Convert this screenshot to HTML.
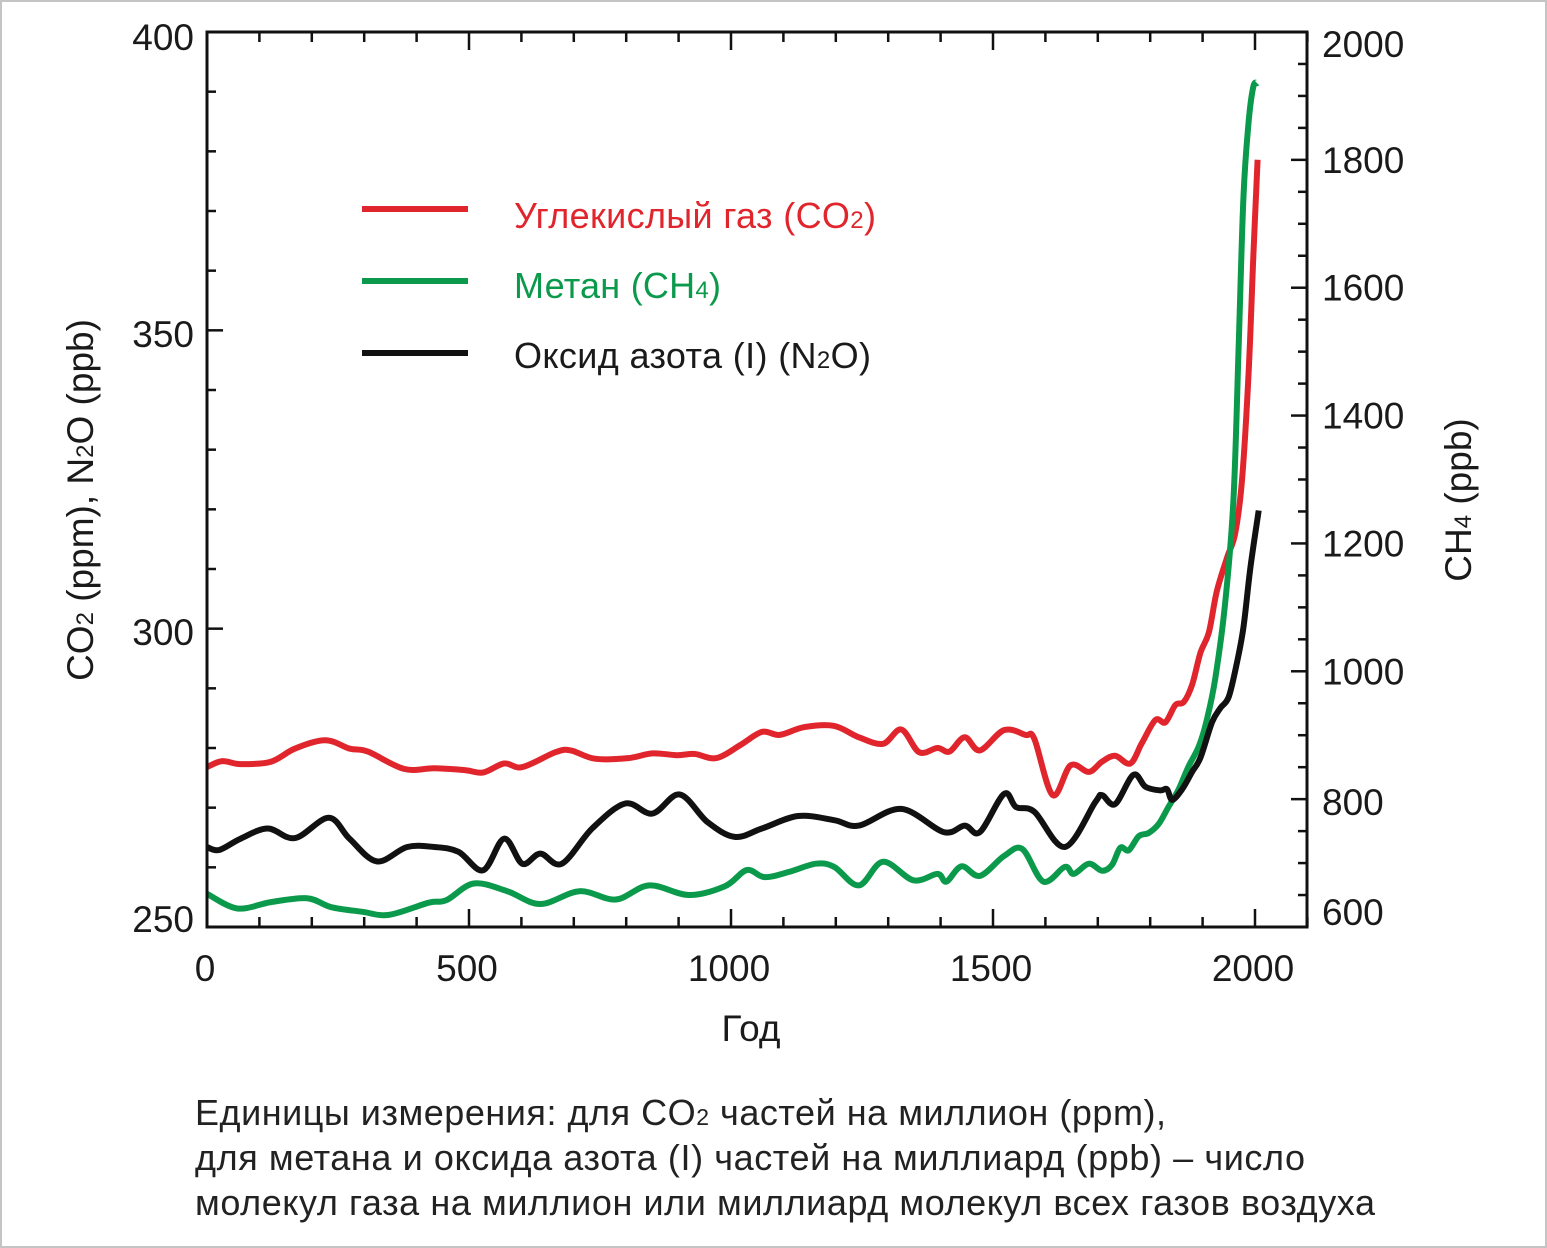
<!DOCTYPE html>
<html><head><meta charset="utf-8"><style>
html,body{margin:0;padding:0;background:#fff}
#wrap{position:relative;width:1547px;height:1248px;box-sizing:border-box;border:2px solid #c4c4c4;background:#fff;overflow:hidden}
svg{position:absolute;left:0;top:0}
text{font-family:"Liberation Sans",sans-serif;fill:#1a1a1a}
</style></head><body>
<div id="wrap">
<svg id="chart" width="1547" height="1248" viewBox="0 0 1547 1248"></svg>
</div>
<script>
const co2Years=[0,29,64,122,168,226,272,307,376,434,492,527,567,602,665,694,740,804,850,897,931,972,1018,1059,1093,1140,1197,1244,1290,1325,1359,1394,1417,1446,1475,1521,1562,1579,1614,1648,1683,1708,1733,1762,1784,1810,1829,1848,1864,1880,1896,1912,1927,1947,1962,1975,1988,1997,2005];
const co2Values=[276.8,277.8,277.3,277.7,279.9,281.3,279.9,279.4,276.5,276.6,276.3,275.9,277.4,276.8,279.3,279.6,278.2,278.3,279.1,278.8,279.0,278.3,280.5,282.7,282.2,283.5,283.7,281.8,280.7,283.1,279.3,280.0,279.4,281.8,279.6,283.0,282.2,281.5,272.1,277.1,276.0,277.7,278.7,277.4,280.8,284.7,284.3,287.2,287.7,290.6,296.0,299.4,306.2,312.0,315.9,324.7,343.2,362.7,378.6];
const n2oYears=[0,23,64,116,168,232,272,324,382,434,480,527,567,602,636,677,735,798,850,902,955,1007,1059,1128,1197,1244,1325,1406,1446,1475,1521,1544,1579,1637,1695,1708,1733,1768,1791,1819,1832,1842,1861,1880,1896,1918,1934,1950,1966,1978,1991,2007];
const n2oValues=[263.4,262.9,264.8,266.5,264.9,268.3,264.8,261.0,263.4,263.4,262.6,259.5,264.8,260.6,262.3,260.6,266.5,270.7,269.0,272.2,267.6,265.1,266.5,268.6,267.9,267.0,269.8,265.9,267.0,265.9,272.3,270.1,269.3,263.4,270.9,272.1,270.6,275.5,273.5,272.9,273.1,271.3,273.1,276.0,278.4,284.3,286.7,288.6,294.5,300.3,310.1,319.8];
const ch4Years=[0,58,122,191,237,295,347,423,457,509,573,636,711,780,844,920,989,1030,1064,1110,1162,1197,1244,1290,1348,1394,1411,1440,1475,1521,1556,1596,1637,1654,1683,1708,1727,1743,1759,1778,1797,1816,1835,1854,1873,1893,1908,1924,1943,1959,1969,1978,1988,1997,2004];
const ch4Values=[652,629,639,645,631,624,619,638,642,668,656,636,656,643,665,650,664,689,678,686,699,694,665,702,673,683,671,695,680,711,722,671,694,683,699,688,697,724,720,742,747,761,788,815,851,883,924,988,1106,1270,1515,1743,1861,1915,1920];
const leftTicks=[250,300,350,400];
const rightTicks=[600,800,1000,1200,1400,1600,1800,2000];
const xTicks=[0,500,1000,1500,2000];

const L=205,R=1305,T=30,B=925;
const x=y=>L+(y)*0.524;
const yL=v=>B-(v-250)*(B-T)/150;
const yR=v=>B-(v-600)*(B-T)/1400;
const svg=document.getElementById('chart');
const NS='http://www.w3.org/2000/svg';
function mk(tag,attrs,parent){const e=document.createElementNS(NS,tag);for(const k in attrs)e.setAttribute(k,attrs[k]);(parent||svg).appendChild(e);return e;}
function smooth(pts){let d='M'+pts[0][0].toFixed(1)+','+pts[0][1].toFixed(1);
 for(let i=0;i<pts.length-1;i++){const p0=pts[i-1]||pts[i],p1=pts[i],p2=pts[i+1],p3=pts[i+2]||p2;
  const c1=[p1[0]+(p2[0]-p0[0])/6,p1[1]+(p2[1]-p0[1])/6],c2=[p2[0]-(p3[0]-p1[0])/6,p2[1]-(p3[1]-p1[1])/6];
  d+=' C'+c1.map(n=>n.toFixed(1))+' '+c2.map(n=>n.toFixed(1))+' '+p2.map(n=>n.toFixed(1));}
 return d;}

const series=[[n2oYears,n2oValues,yL,'#111','n2o-line'],[co2Years,co2Values,yL,'#e0252d','co2-line'],[ch4Years,ch4Values,yR,'#0b9a4b','ch4-line']];
const order=[1,2,0];
order.forEach(i=>{const s=series[i];const pts=s[0].map((yr,j)=>[x(yr),s[2](s[1][j])]);
 const p=mk('path',{d:smooth(pts),fill:'none',stroke:s[3],'stroke-width':6,'stroke-linejoin':'round','stroke-linecap':'butt'});
 
 
});

const fr=mk('rect',{x:L,y:T,width:R-L,height:B-T,fill:'none',stroke:'#111','stroke-width':3});


const tg=mk('g',{stroke:'#111','stroke-width':2.5});


for(let v=250;v<=400;v+=10){const yy=yL(v);const len=(v%50===0)?16:9;mk('line',{x1:L,x2:L+len,y1:yy,y2:yy},tg);}
for(let v=600;v<=2000;v+=50){const yy=yR(v);const len=(v%200===0)?16:9;mk('line',{x1:R-len,x2:R,y1:yy,y2:yy},tg);}
for(let v=0;v<=2100;v+=100){const xx=x(v);const len=(v%500===0)?18:10;mk('line',{x1:xx,x2:xx,y1:B,y2:B-len},tg);mk('line',{x1:xx,x2:xx,y1:T,y2:T+len},tg);}

const lPos={250:917,300:630,350:332,400:35};
leftTicks.forEach(v=>{const t=mk('text',{x:192,y:lPos[v]+13,'font-size':37,'text-anchor':'end'});t.textContent=v;
 
 });
rightTicks.forEach(v=>{let yy=yR(v);if(v===600)yy=910;if(v===2000)yy=42;if(v===800)yy=800;
 const t=mk('text',{x:1320,y:yy+13,'font-size':37});t.textContent=v;
 
 });
xTicks.forEach(v=>{const t=mk('text',{x:x(v)-2,y:979,'font-size':37,'text-anchor':'middle'});t.textContent=v;
 
 });
</script>
<svg width="1547" height="1248" style="position:absolute;left:0;top:0">
<text x="751" y="1041" font-size="37" text-anchor="middle">Год</text>
<text transform="translate(93,500) rotate(-90)" font-size="37" text-anchor="middle">CO<tspan font-size="24">2</tspan> (ppm), N<tspan font-size="24">2</tspan>O (ppb)</text>
<text transform="translate(1471,500) rotate(-90)" font-size="37" text-anchor="middle">CH<tspan font-size="24">4</tspan> (ppb)</text>
<g>
<line x1="362" x2="468" y1="209" y2="209" stroke="#e0252d" stroke-width="6"/>
<line x1="362" x2="468" y1="281" y2="281" stroke="#0b9a4b" stroke-width="6"/>
<line x1="362" x2="468" y1="353" y2="353" stroke="#111" stroke-width="6"/>
<text x="514" y="228" font-size="36" textLength="362" style="fill:#e0252d">Углекислый газ (CO<tspan font-size="24">2</tspan>)</text>
<text x="514" y="298" font-size="36" textLength="207" style="fill:#0b9a4b">Метан (CH<tspan font-size="24">4</tspan>)</text>
<text x="514" y="368" font-size="36" textLength="357">Оксид азота (I) (N<tspan font-size="24">2</tspan>O)</text>
</g>
<g>
<text x="195" y="1125" font-size="36" textLength="971" style="fill:#222">Единицы измерения: для CO<tspan font-size="23">2</tspan> частей на миллион (ppm),</text>
<text x="195" y="1170" font-size="36" textLength="1110" style="fill:#222">для метана и оксида азота (I) частей на миллиард (ppb) – число</text>
<text x="195" y="1215" font-size="36" textLength="1180" style="fill:#222">молекул газа на миллион или миллиард молекул всех газов воздуха</text>
</g>
</svg>
</body></html>
